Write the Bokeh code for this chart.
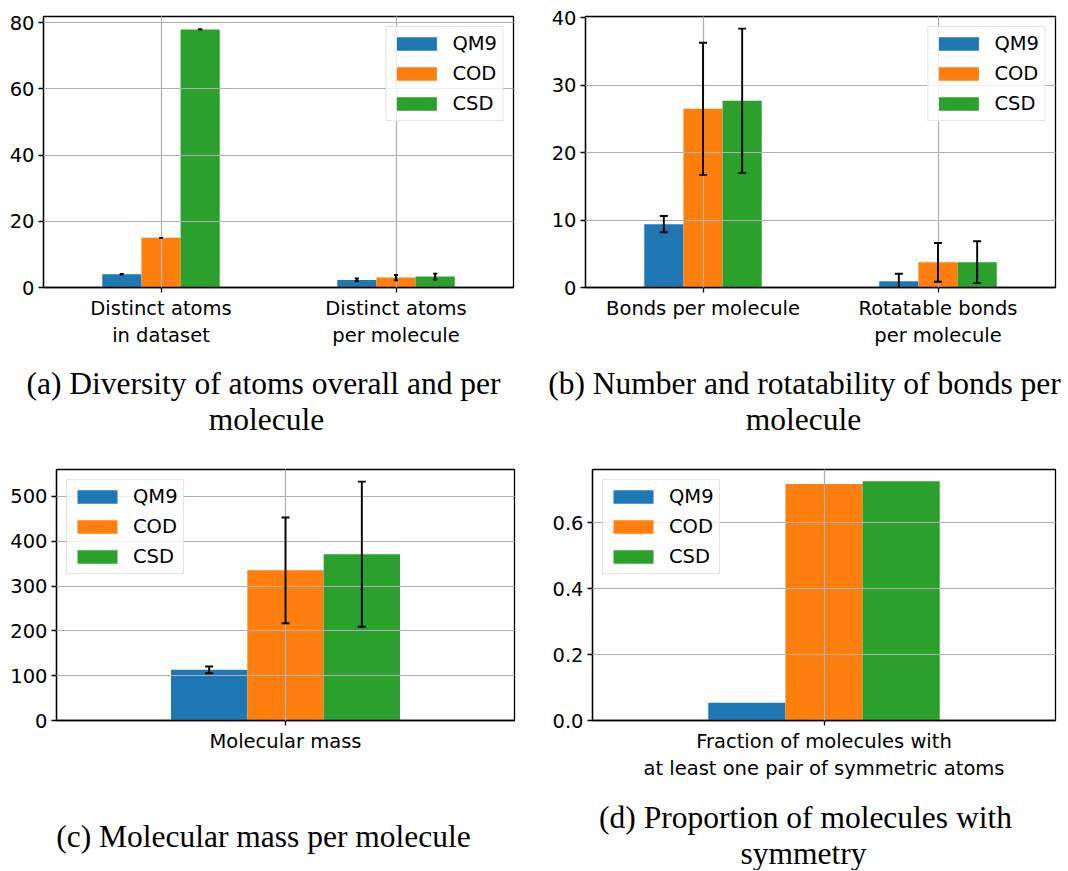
from bokeh.plotting import figure
from bokeh.models import (Range1d, FixedTicker, ColumnDataSource, Whisker, TeeHead,
                          Legend, LegendItem, PrintfTickFormatter)
from bokeh.layouts import column, row
from bokeh.embed import file_html
from bokeh.resources import INLINE
from bokeh.core.properties import value

# ---------------- data ----------------
series = ["QM9", "COD", "CSD"]
colors = ["#1f77b4", "#ff7f0e", "#2ca02c"]

a_labels = ["Distinct atoms\nin dataset", "Distinct atoms\nper molecule"]
a_qm9 = [4.0, 2.3]
a_cod = [15.0, 3.0]
a_csd = [78.0, 3.3]
a_qm9_err = [0.0, 0.4]
a_cod_err = [0.0, 0.8]
a_csd_err = [0.0, 0.9]
a_yticks = [0, 20, 40, 60, 80]

b_labels = ["Bonds per molecule", "Rotatable bonds\nper molecule"]
b_qm9 = [9.4, 0.93]
b_cod = [26.5, 3.73]
b_csd = [27.7, 3.75]
b_qm9_err = [1.2, 1.12]
b_cod_err = [9.8, 2.87]
b_csd_err = [10.7, 3.1]
b_yticks = [0, 10, 20, 30, 40]

c_labels = ["Molecular mass"]
c_qm9 = [113.0]
c_cod = [335.0]
c_csd = [371.0]
c_qm9_err = [7.6]
c_cod_err = [118.0]
c_csd_err = [162.0]
c_yticks = [0, 100, 200, 300, 400, 500]

d_labels = ["Fraction of molecules with\nat least one pair of symmetric atoms"]
d_qm9 = [0.054]
d_cod = [0.717]
d_csd = [0.725]
d_yticks = [0.0, 0.2, 0.4, 0.6]

captions_a = ["(a) Diversity of atoms overall and per", "molecule"]
captions_b = ["(b) Number and rotatability of bonds per", "molecule"]
captions_c = ["(c) Molecular mass per molecule"]
captions_d = ["(d) Proportion of molecules with", "symmetry"]

FONT = "DejaVu Sans"
SERIF = "Liberation Serif"


def panel(labels, vals, errs, ymax, yticks, width, height, bl, br, bt, bb,
          legend_loc, cap, fmt=None):
    n = len(labels)
    p = figure(width=width, height=height, x_range=Range1d(-0.5, n - 0.5),
               y_range=Range1d(0, ymax), toolbar_location=None, output_backend="svg",
               min_border_left=bl, min_border_right=br, min_border_top=bt,
               min_border_bottom=bb)
    offsets = [-1 / 6, 0, 1 / 6]
    items = []
    for k, name in enumerate(series):
        xs = [i + offsets[k] for i in range(n)]
        v = vals[k]
        e = errs[k] if errs is not None else None
        data = dict(x=xs, top=v)
        if e is not None:
            data["lower"] = [a - b for a, b in zip(v, e)]
            data["upper"] = [a + b for a, b in zip(v, e)]
        src = ColumnDataSource(data)
        r = p.vbar(x="x", top="top", bottom=0, width=1 / 6, source=src,
                   fill_color=colors[k], line_color=None)
        items.append(LegendItem(label=name, renderers=[r]))
        if e is not None:
            w = Whisker(base="x", upper="upper", lower="lower", source=src,
                        level="annotation",
                        line_color="black", line_width=1.9,
                        upper_head=TeeHead(size=cap, line_width=1.9, line_color="black"),
                        lower_head=TeeHead(size=cap, line_width=1.9, line_color="black"))
            p.add_layout(w)

    p.xaxis.ticker = FixedTicker(ticks=list(range(n)))
    p.xgrid.ticker = FixedTicker(ticks=list(range(n)))
    p.xaxis.major_label_overrides = {i: lab for i, lab in enumerate(labels)}
    p.yaxis.ticker = FixedTicker(ticks=yticks)
    p.ygrid.ticker = FixedTicker(ticks=yticks)
    if fmt is not None:
        p.yaxis.formatter = PrintfTickFormatter(format=fmt)

    for ax in p.axis:
        ax.major_tick_in = 0
        ax.major_tick_out = 5
        ax.minor_tick_in = 0
        ax.minor_tick_out = 0
        ax.axis_line_color = "black"
        ax.axis_line_width = 1.3
        ax.major_tick_line_color = "black"
        ax.major_tick_line_width = 1.3
        ax.major_label_text_font = FONT
        ax.major_label_text_font_size = "19.5px"
        ax.major_label_text_color = "black"
        ax.major_label_standoff = 4

    p.grid.grid_line_color = "#b0b0b0"
    p.grid.grid_line_width = 1.2
    p.grid.level = "guide"
    p.outline_line_color = "black"
    p.outline_line_width = 1.3
    p.outline_line_alpha = 1.0

    legend = Legend(items=items, location=legend_loc, margin=10,
                    border_line_color="#cccccc", border_line_width=1,
                    background_fill_color="white", background_fill_alpha=0.8,
                    label_text_font=FONT, label_text_font_size="19.5px",
                    label_text_color="black",
                    glyph_width=50, glyph_height=17, label_standoff=11,
                    padding=5, spacing=7, label_height=22)
    p.add_layout(legend)
    return p


def caption_fig(width, height, texts, xs, ys):
    p = figure(width=width, height=height, x_range=Range1d(0, width),
               y_range=Range1d(height, 0), toolbar_location=None, output_backend="svg",
               x_axis_location=None, y_axis_location=None,
               min_border_left=0, min_border_right=0, min_border_top=0,
               min_border_bottom=0)
    p.grid.visible = False
    p.outline_line_color = None
    src = ColumnDataSource(dict(x=xs, y=ys, text=texts))
    p.text(x="x", y="y", text="text", source=src, text_font=value(SERIF),
           text_font_size="31.5px", text_align="center", text_baseline="alphabetic",
           text_color="black")
    return p


LW, RW = 538, 530
H1, HC1, H2, HC2 = 355, 85, 360, 70

pa = panel(a_labels, [a_qm9, a_cod, a_csd], [a_qm9_err, a_cod_err, a_csd_err],
           81.9, a_yticks, LW, H1, 43, 25, 13, 65, "top_right", 4)
pb = panel(b_labels, [b_qm9, b_cod, b_csd], [b_qm9_err, b_cod_err, b_csd_err],
           40.2, b_yticks, RW, H1, 47, 13, 16, 68, "top_right", 8)
pc = panel(c_labels, [c_qm9, c_cod, c_csd], [c_qm9_err, c_cod_err, c_csd_err],
           560, c_yticks, LW, H2, 56, 24, 29, 36, "top_left", 8)
pd = panel(d_labels, [d_qm9, d_cod, d_csd], None,
           0.761, d_yticks, RW, H2, 54, 13, 11, 80, "top_left", 8, fmt="%.1f")

ca = caption_fig(LW, HC1, captions_a, [263, 266], [28, 64])
cb = caption_fig(RW, HC1, captions_b, [266, 265], [28, 64])
cc = caption_fig(LW, HC2, captions_c, [263], [36])
cd = caption_fig(RW, HC2, captions_d, [267, 265], [17, 53])

layout = column(row(pa, pb), row(ca, cb), row(pc, pd), row(cc, cd))

open("out.html", "w").write(file_html(layout, INLINE))
